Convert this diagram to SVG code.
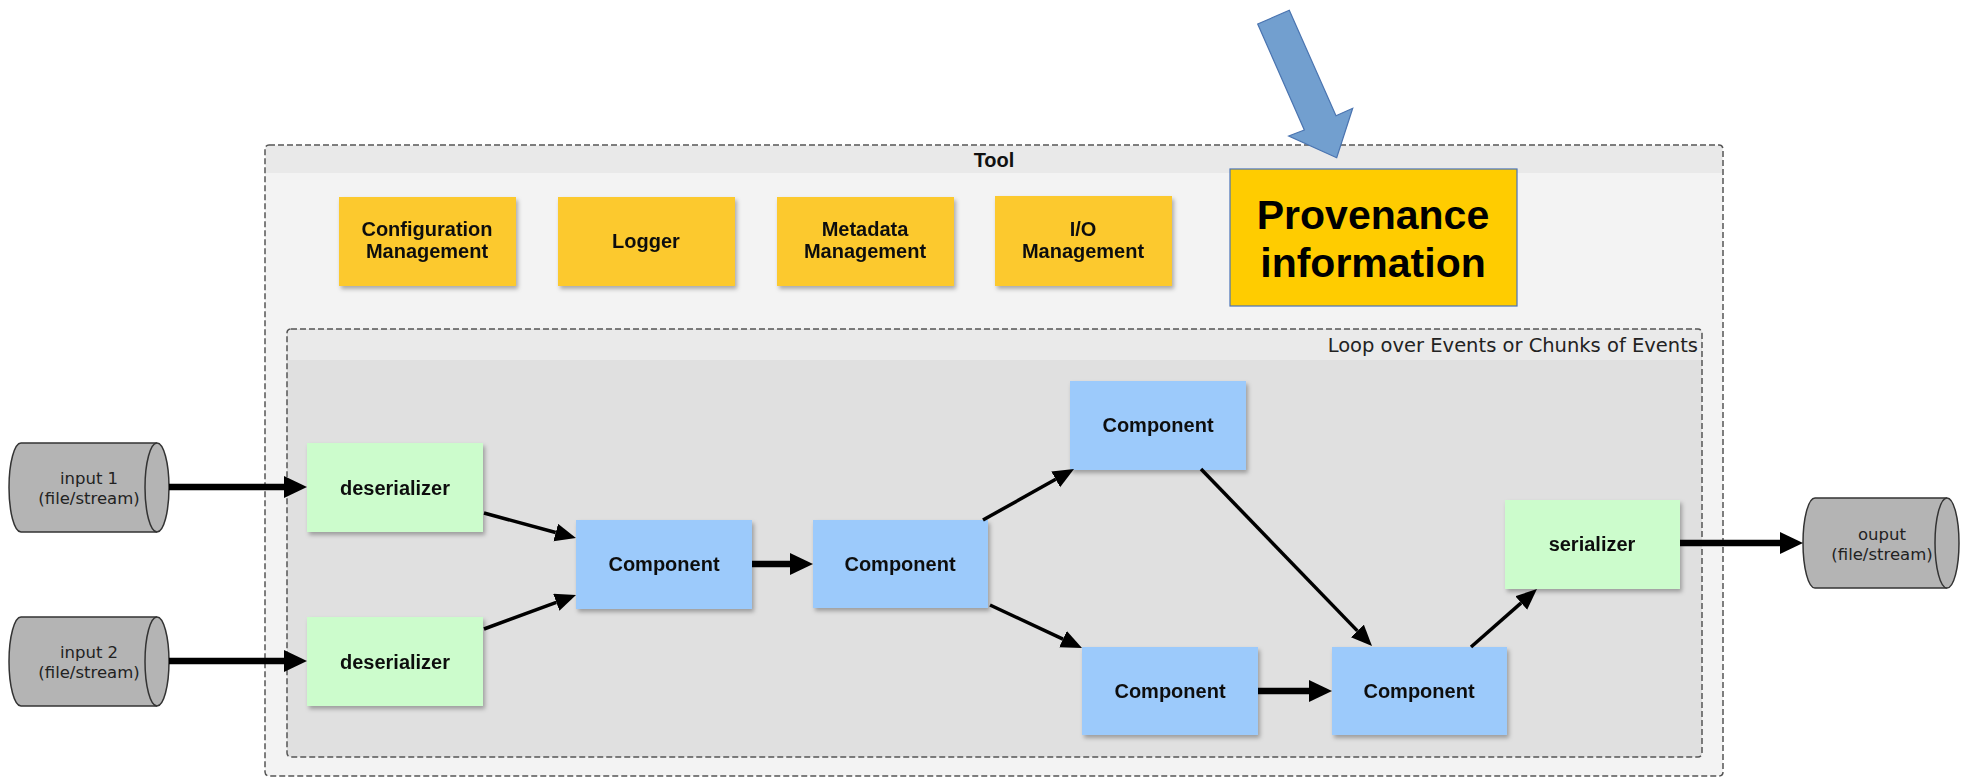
<svg xmlns="http://www.w3.org/2000/svg" width="1962" height="778" viewBox="0 0 1962 778">
<style>
.lbl{font-family:"Liberation Sans",Arial,sans-serif;font-weight:bold;font-size:20px;fill:#111;text-anchor:middle}
.io{font-family:"DejaVu Sans",sans-serif;font-size:16.5px;fill:#222;text-anchor:middle}
.yel{fill:#fcc92d}
.grn{fill:#ccfccc}
.blu{fill:#9ccafb}
.cyl{fill:#b4b4b4;stroke:#333;stroke-width:1.5}
.thin{stroke:#000;stroke-width:3.5;fill:none}
.thick{stroke:#000;stroke-width:6.5;fill:none}
.box{filter:url(#sh)}
</style>
<defs>
<filter id="sh" x="-10%" y="-10%" width="130%" height="130%">
<feDropShadow dx="2" dy="3" stdDeviation="2" flood-color="#000" flood-opacity="0.3"/>
</filter>
<marker id="ah" markerUnits="userSpaceOnUse" markerWidth="24" markerHeight="20" refX="0" refY="9" orient="auto">
<path d="M0,0 L21,9 L0,18 z" fill="#000"/>
</marker>
<marker id="ahb" markerUnits="userSpaceOnUse" markerWidth="26" markerHeight="24" refX="0" refY="11" orient="auto">
<path d="M0,0 L23,11 L0,22 z" fill="#000"/>
</marker>
</defs>
<rect width="1962" height="778" fill="#fff"/>

<g id="tool">
<rect x="265" y="145" width="1458" height="631" rx="4" fill="#f3f3f3"/>
<rect x="266" y="146" width="1456" height="27" fill="#e9e9e9"/>
<rect x="265" y="145" width="1458" height="631" rx="4" fill="none" stroke="#555" stroke-width="1.5" stroke-dasharray="6 3"/>
<text class="lbl" x="994" y="167">Tool</text>
</g>

<g id="config" class="box">
<rect class="yel" x="339" y="197" width="177" height="89"/>
<text class="lbl" x="427" y="236">Configuration</text>
<text class="lbl" x="427" y="258">Management</text>
</g>
<g id="logger" class="box">
<rect class="yel" x="558" y="197" width="177" height="89"/>
<text class="lbl" x="646" y="248">Logger</text>
</g>
<g id="metadata" class="box">
<rect class="yel" x="777" y="197" width="177" height="89"/>
<text class="lbl" x="865" y="236">Metadata</text>
<text class="lbl" x="865" y="258">Management</text>
</g>
<g id="io" class="box">
<rect class="yel" x="995" y="196" width="177" height="90"/>
<text class="lbl" x="1083" y="236">I/O</text>
<text class="lbl" x="1083" y="258">Management</text>
</g>
<g id="provenance">
<rect x="1230" y="169" width="287" height="137" fill="#ffcc00" stroke="#4a72b8" stroke-width="1.2"/>
<text class="lbl" x="1373" y="229" style="font-size:41px;fill:#000">Provenance</text>
<text class="lbl" x="1373" y="277" style="font-size:41px;fill:#000">information</text>
</g>
<g id="pointer">
<polygon points="1257.7,24 1289.3,10.3 1336,115.7 1352.7,108.3 1336.7,157.7 1288.7,136 1304.3,130" fill="#729fcf" stroke="#4a74b0" stroke-width="1.2"/>
</g>

<g id="loop">
<rect x="287" y="329" width="1415" height="428" rx="4" fill="#e0e0e0"/>
<rect x="288" y="330" width="1413" height="30" fill="#eaeaea"/>
<rect x="287" y="329" width="1415" height="428" rx="4" fill="none" stroke="#555" stroke-width="1.5" stroke-dasharray="6 3"/>
<text x="1698" y="352" style="font-family:'DejaVu Sans',sans-serif;font-size:19.5px;fill:#222;text-anchor:end">Loop over Events or Chunks of Events</text>
</g>

<g id="input1">
<path class="cyl" d="M21,443 L157,443 A12,44.5 0 0 1 157,532 L21,532 A12,44.5 0 0 1 21,443 Z"/>
<path class="cyl" d="M157,443 A12,44.5 0 0 0 157,532" fill="none"/>
<text class="io" x="89" y="484">input 1</text>
<text class="io" x="89" y="504">(file/stream)</text>
</g>
<g id="input2">
<path class="cyl" d="M21,617 L157,617 A12,44.5 0 0 1 157,706 L21,706 A12,44.5 0 0 1 21,617 Z"/>
<path class="cyl" d="M157,617 A12,44.5 0 0 0 157,706" fill="none"/>
<text class="io" x="89" y="658">input 2</text>
<text class="io" x="89" y="678">(file/stream)</text>
</g>
<g id="output">
<path class="cyl" d="M1815,498 L1947,498 A12,45 0 0 1 1947,588 L1815,588 A12,45 0 0 1 1815,498 Z"/>
<path class="cyl" d="M1947,498 A12,45 0 0 0 1947,588" fill="none"/>
<text class="io" x="1882" y="540">ouput</text>
<text class="io" x="1882" y="560">(file/stream)</text>
</g>

<g id="deser1" class="box">
<rect class="grn" x="307" y="443" width="176" height="89"/>
<text class="lbl" x="395" y="495">deserializer</text>
</g>
<g id="deser2" class="box">
<rect class="grn" x="307" y="617" width="176" height="89"/>
<text class="lbl" x="395" y="669">deserializer</text>
</g>
<g id="comp1" class="box">
<rect class="blu" x="576" y="520" width="176" height="89"/>
<text class="lbl" x="664" y="571">Component</text>
</g>
<g id="comp2" class="box">
<rect class="blu" x="813" y="520" width="175" height="88"/>
<text class="lbl" x="900" y="571">Component</text>
</g>
<g id="comp3" class="box">
<rect class="blu" x="1070" y="381" width="176" height="89"/>
<text class="lbl" x="1158" y="432">Component</text>
</g>
<g id="comp4" class="box">
<rect class="blu" x="1082" y="647" width="176" height="88"/>
<text class="lbl" x="1170" y="698">Component</text>
</g>
<g id="comp5" class="box">
<rect class="blu" x="1332" y="647" width="175" height="88"/>
<text class="lbl" x="1419" y="698">Component</text>
</g>
<g id="serializer" class="box">
<rect class="grn" x="1505" y="500" width="175" height="89"/>
<text class="lbl" x="1592" y="551">serializer</text>
</g>

<g id="connectors">
<line class="thick" x1="169" y1="487" x2="284" y2="487" marker-end="url(#ahb)"/>
<line class="thick" x1="169" y1="661" x2="284" y2="661" marker-end="url(#ahb)"/>
<line class="thin" x1="484" y1="513" x2="555.7" y2="532.5" marker-end="url(#ah)"/>
<line class="thin" x1="484" y1="629" x2="556.3" y2="602.3" marker-end="url(#ah)"/>
<line class="thick" x1="752" y1="564" x2="790" y2="564" marker-end="url(#ahb)"/>
<line class="thin" x1="983" y1="520" x2="1055.7" y2="479.3" marker-end="url(#ah)"/>
<line class="thin" x1="990" y1="605" x2="1063" y2="639.1" marker-end="url(#ah)"/>
<line class="thin" x1="1201" y1="469" x2="1357.4" y2="630.9" marker-end="url(#ah)"/>
<line class="thick" x1="1258" y1="691" x2="1309" y2="691" marker-end="url(#ahb)"/>
<line class="thin" x1="1471" y1="647" x2="1521.2" y2="602.9" marker-end="url(#ah)"/>
<line class="thick" x1="1680" y1="543" x2="1780" y2="543" marker-end="url(#ahb)"/>
</g>
</svg>
